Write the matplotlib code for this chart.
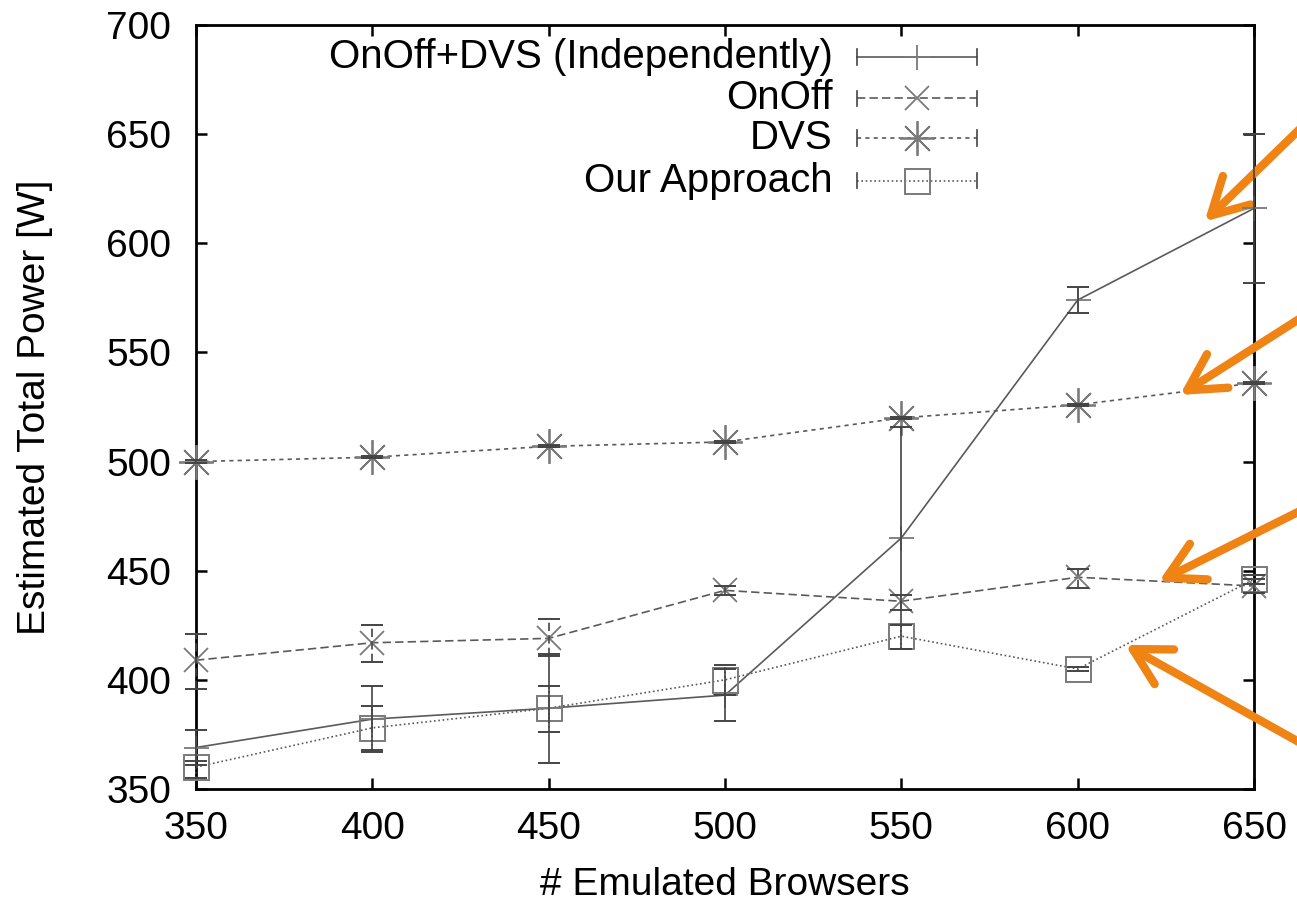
import numpy as np
import matplotlib
matplotlib.use('Agg')
import matplotlib.pyplot as plt

plt.rcParams['font.family'] = ['Liberation Sans', 'DejaVu Sans']

# data
browsers = [350, 400, 450, 500, 550, 600, 650]

onoff_dvs = [369, 382, 387, 393, 465, 574, 616]
onoff_dvs_lo = [361, 367, 362, 381, 414, 568, 582]
onoff_dvs_hi = [377, 397, 412, 405, 516, 580, 650]

onoff = [409, 417, 419, 441, 436, 447, 443]
onoff_lo = [396, 408, 411, 439, 432, 442, 440]
onoff_hi = [421, 425, 428, 443, 439, 451, 446]

dvs = [500, 502, 507, 509, 520, 526, 536]
dvs_lo = [499.5, 501.5, 506.5, 508.5, 519.5, 525.5, 535.5]
dvs_hi = [500.5, 502.5, 507.5, 509.5, 520.5, 526.5, 536.5]

ours = [360, 378, 387, 400, 420, 405, 446]
ours_lo = [355, 368, 376, 393, 414, 404, 444]
ours_hi = [363, 388, 397, 407, 425, 406, 448]

labels = ['OnOff+DVS (Independently)', 'OnOff', 'DVS', 'Our Approach']

# arrow tips (data coords) and tails (figure pixels)
arrow_tips = [(636, 610), (629, 530.5), (623, 445), (613.5, 416)]
arrow_tails = [(1340, 818), (1340, 615), (1340, 417), (1340, 143)]

line_col = '#5a5a5a'
mark_col = '#7a7a7a'
styles = [
    dict(ls='-', marker='+', ms=18, mew=1.3, dashes=None),
    dict(ls='--', marker='x', ms=17, mew=1.3, dashes=(5, 2.5)),
    dict(ls='--', marker=(8, 2, 0), ms=25, mew=1.3, dashes=(2.5, 2.5)),
    dict(ls=':', marker='s', ms=18, mew=1.4, dashes=(1, 1.6)),
]


def draw_series(ax, y, lo, hi, st):
    y = np.array(y, dtype=float)
    yerr = [y - np.array(lo), np.array(hi) - y]
    line, = ax.plot(browsers, y, color=line_col, lw=1.2, ls=st['ls'], zorder=3)
    if st['dashes'] is not None:
        line.set_dashes(st['dashes'])
    ax.plot(browsers, y, ls='none', marker=st['marker'], ms=st['ms'],
            mew=st['mew'], mfc='none', mec=mark_col, zorder=4, clip_on=False)
    eb = ax.errorbar(browsers, y, yerr=yerr, fmt='none', ecolor='#444444',
                     elinewidth=1.2, capsize=8, capthick=1.4, zorder=5)
    for col in eb[2]:
        col.set_clip_on(False)
        if st['dashes'] is not None:
            col.set_linestyle((0, st['dashes']))
    for cap in eb[1]:
        cap.set_clip_on(False)
    return line


fig = plt.figure(figsize=(12.97, 9.08), dpi=100)
ax = fig.add_axes([196 / 1297, 1 - 789 / 908, (1254 - 196) / 1297, (789 - 25) / 908])

series = [(onoff_dvs, onoff_dvs_lo, onoff_dvs_hi),
          (onoff, onoff_lo, onoff_hi),
          (dvs, dvs_lo, dvs_hi),
          (ours, ours_lo, ours_hi)]
for (y, lo, hi), st in zip(series, styles):
    draw_series(ax, y, lo, hi, st)

ax.set_xlim(350, 650)
ax.set_ylim(350, 700)
ax.set_xticks(np.arange(350, 651, 50))
ax.set_yticks(np.arange(350, 701, 50))
ax.tick_params(direction='in', length=8, width=1.8, top=True, right=True,
               labelsize=28)
ax.tick_params(axis='y', pad=18)
ax.tick_params(axis='x', pad=16)
for sp in ax.spines.values():
    sp.set_linewidth(2.0)
ax.set_xlabel('# Emulated Browsers', fontsize=28, labelpad=14)
ax.set_ylabel('Estimated Total Power [W]', fontsize=28, labelpad=38)

# gnuplot style key
row_y = [0.958, 0.904, 0.852, 0.796]
x0, x1 = 0.625, 0.738
for lab, st, yy in zip(labels, styles, row_y):
    ax.text(0.602, yy, lab, transform=ax.transAxes, ha='right', va='center',
            fontsize=29)
    ln, = ax.plot([x0, x1], [yy, yy], transform=ax.transAxes, color=line_col,
                  lw=1.2, ls=st['ls'], clip_on=False)
    if st['dashes'] is not None:
        ln.set_dashes(st['dashes'])
    for xe in (x0, x1):
        ax.plot([xe, xe], [yy - 0.01, yy + 0.01], transform=ax.transAxes,
                color='#444444', lw=1.2, clip_on=False)
    ax.plot([(x0 + x1) / 2], [yy], transform=ax.transAxes, ls='none',
            marker=st['marker'], ms=st['ms'], mew=st['mew'], mfc='none',
            mec=mark_col, clip_on=False)

# orange arrows
for tip, tail in zip(arrow_tips, arrow_tails):
    ax.annotate('', xy=tip, xycoords='data', xytext=tail,
                textcoords='figure pixels', annotation_clip=False,
                arrowprops=dict(arrowstyle='->,head_length=1.0,head_width=0.55',
                                color='#ef8314', lw=6, mutation_scale=26,
                                shrinkA=0, shrinkB=0, capstyle='round',
                                joinstyle='round'))

fig.savefig('out.png', dpi=100)
